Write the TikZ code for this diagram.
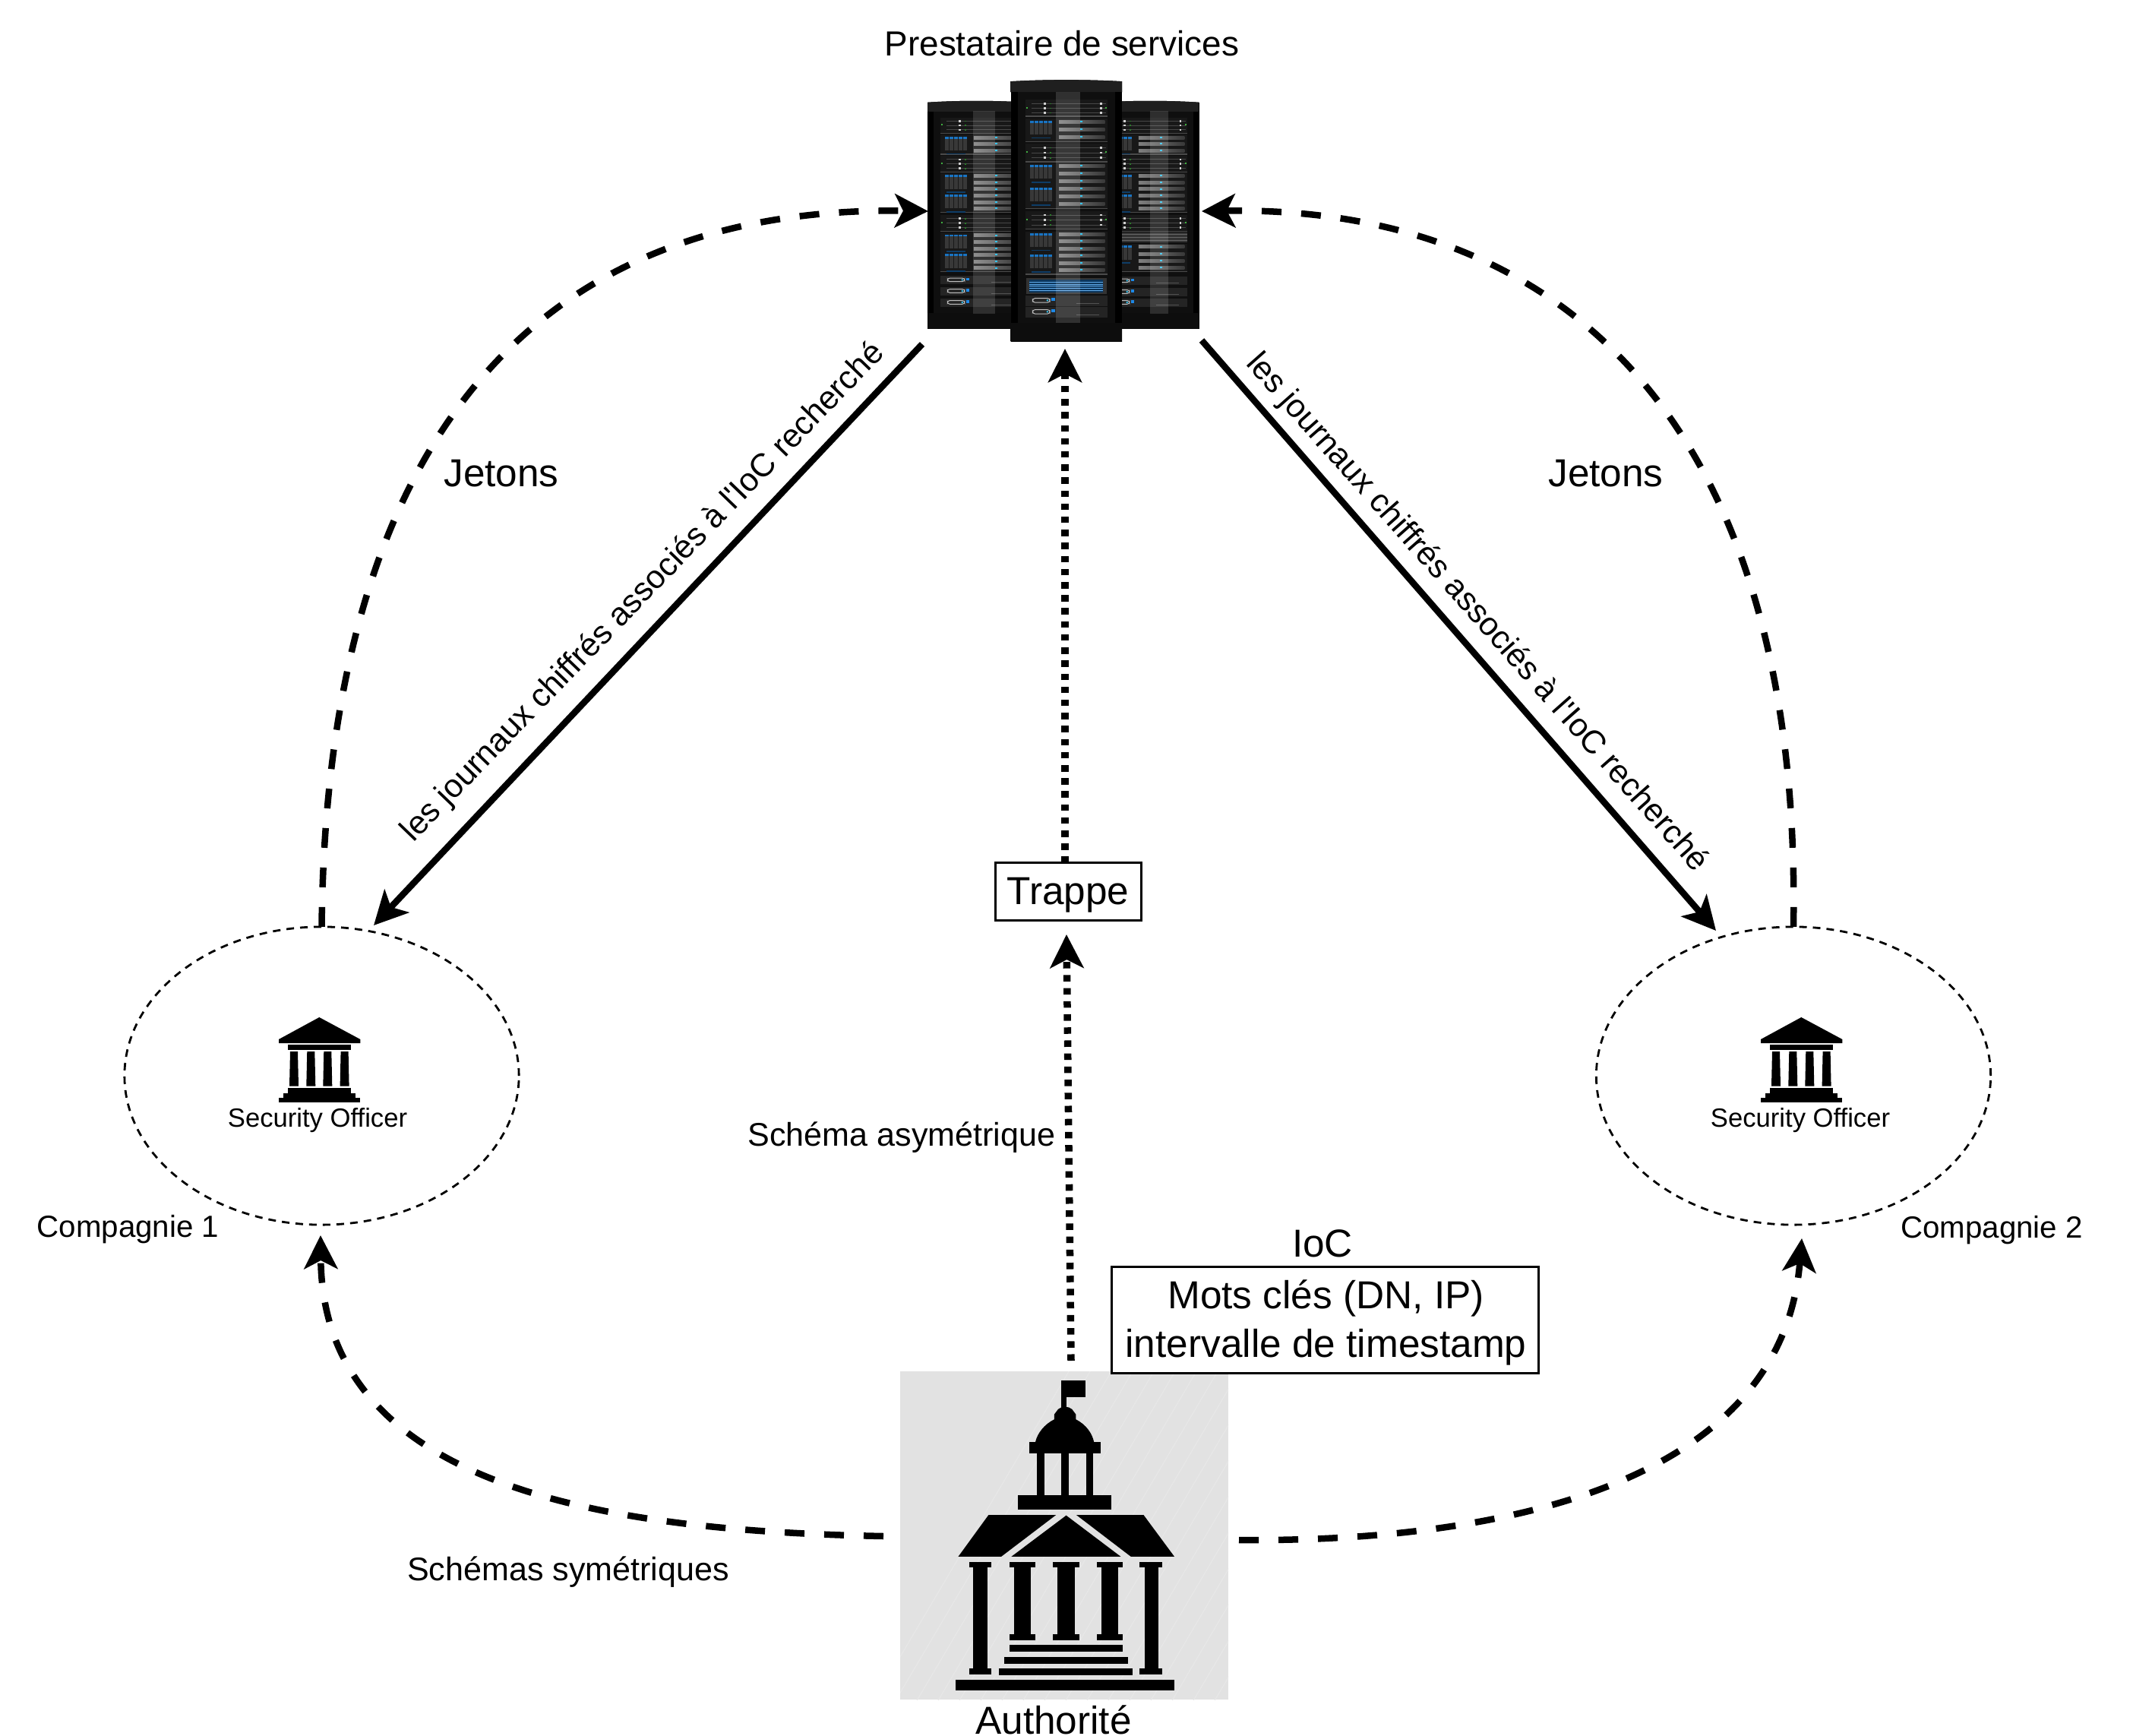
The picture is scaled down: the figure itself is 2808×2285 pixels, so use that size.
\documentclass[tikz,border=0pt]{standalone}
\usepackage{fontspec}
\setmainfont{Liberation Sans}
\newfontfamily\rawf{Liberation Sans}
\usetikzlibrary{arrows.meta,shapes.geometric}
\definecolor{greybg}{HTML}{E2E2E2}
\definecolor{greyhatch}{HTML}{E7E7E7}
\definecolor{modbg}{HTML}{181818}
\definecolor{modline}{HTML}{4A4A4A}
\definecolor{ledblue}{HTML}{1E88E5}
\definecolor{ledcyan}{HTML}{35C5F0}
\definecolor{ledgreen}{HTML}{3FAF3F}
\tikzset{
  dcurve/.style={line width=.085cm,dash pattern=on .26cm off .26cm,-{Stealth[length=.44cm,width=.44cm,inset=.11cm]}},
  dotline/.style={line width=.095cm,dash pattern=on .085cm off .087cm,-{Stealth[length=.44cm,width=.44cm,inset=.11cm]}},
  solidarrow/.style={line width=.085cm,-{Stealth[length=.44cm,width=.44cm,inset=.11cm]}},
  comp/.style={draw,ellipse,line width=.028cm,dash pattern=on .1cm off .08cm,minimum width=5.19cm,minimum height=3.92cm,inner sep=0pt,outer sep=0pt},
  lab/.style={inner sep=0pt,outer sep=0pt,anchor=base,text=black},
  bigf/.style={font=\fontsize{14.6}{18.2}\selectfont},
  headf/.style={font=\fontsize{13.05}{16}\selectfont},
  midf/.style={font=\fontsize{12.25}{15}\selectfont},
  diagf/.style={font=\rawf\fontsize{12.2}{15}\selectfont},
  compf/.style={font=\fontsize{11.45}{14}\selectfont},
  offf/.style={font=\fontsize{9.85}{12}\selectfont},
  boxed/.style={draw,line width=.03cm,fill=white,inner sep=0pt,outer sep=0pt},
  invis/.style={inner sep=0pt,outer sep=0pt}
}
\newcommand{\modA}[4]{%
  \fill[modbg] (#1,#2) rectangle ({#1+#3},{#2+#4});
  \draw[modline,line width=.012cm] (#1,{#2+#4}) -- ({#1+#3},{#2+#4});
  \foreach \pa in {.22,.5,.78}{%
    \draw[black!72,line width=.01cm] ({#1+.08*#3},{#2+\pa*#4}) -- ({#1+.98*#3},{#2+\pa*#4});
    \foreach \pb in {.24,.92}{%
      \fill[black!18] ({#1+\pb*#3-4},{#2+\pa*#4-4}) rectangle ({#1+\pb*#3+4},{#2+\pa*#4+4});
    }
    \fill[ledgreen!70!black] ({#1+.3*#3},{#2+\pa*#4-2}) rectangle ({#1+.3*#3+5},{#2+\pa*#4+3});
  }
  \fill[ledgreen] ({#1+.015*#3},{#2+.42*#4}) rectangle ({#1+.015*#3+5},{#2+.42*#4+6});
  \fill[ledgreen] ({#1+.975*#3},{#2+.42*#4}) rectangle ({#1+.975*#3+5},{#2+.42*#4+6});
}
\newcommand{\modB}[6]{%
  \fill[modbg] (#1,#2) rectangle ({#1+#3},{#2+#4});
  \draw[modline,line width=.012cm] (#1,{#2+#4}) -- ({#1+#3},{#2+#4});
  \pgfmathtruncatemacro\nbars{#5-1}
  \foreach \j in {0,...,\nbars}{%
    \pgfmathsetmacro\yy{#2+(\j+.2)*#4/#5}
    \fill[left color=black!50,right color=black!78] ({#1+.41*#3},\yy) rectangle ({#1+.97*#3},{\yy+12});
    \fill[ledcyan] ({#1+.67*#3},{\yy+2}) rectangle ({#1+.7*#3},{\yy+8});
  }
  \foreach \k in {1,...,#6}{%
    \pgfmathsetmacro\yb{#2+(\k-1)*#4/#6+7}
    \foreach \i in {0,...,4}{%
      \pgfmathsetmacro\xb{#1+.06*#3+\i*18}
      \fill[black!78] (\xb,\yb) rectangle ({\xb+14},{\yb+55});
      \fill[ledblue!85!black] (\xb,\yb) rectangle ({\xb+14},{\yb+9});
    }
    \fill[ledblue!45!black] ({#1+.08*#3},{\yb+66}) rectangle ({#1+.31*#3},{\yb+71});
  }
}
\newcommand{\modC}[4]{%
  \fill[black!86] (#1,#2) rectangle ({#1+#3},{#2+#4});
  \draw[black!25,line width=.01cm,rounded corners=.03cm] ({#1+.09*#3},{#2+.25*#4}) rectangle ({#1+.3*#3},{#2+.65*#4});
  \fill[ledcyan] ({#1+.27*#3},{#2+.45*#4}) circle (4);
  \fill[ledblue] ({#1+.32*#3},{#2+.2*#4}) rectangle ({#1+.36*#3},{#2+.5*#4});
  \draw[black!68,line width=.01cm] ({#1+.62*#3},{#2+.75*#4}) -- ({#1+.9*#3},{#2+.75*#4});
}
% rack body: x1 x2 ytop ybottom capheight stripwidth bottomheight
\newcommand{\rackbody}[7]{%
  \fill[black!94] (#1,#3) rectangle (#2,#4);
  \fill[left color=black!88,middle color=black!62,right color=black!88]
     (#1,{#3+#5}) -- (#1,#3) .. controls ({#1+.3*(#2-#1)},{#3-8}) and ({#1+.7*(#2-#1)},{#3-8}) .. (#2,#3) -- (#2,{#3+#5}) -- cycle;
  \fill[black] (#1,{#3+#5}) rectangle ({#1+#6},#4);
  \fill[black] ({#2-#6},{#3+#5}) rectangle (#2,#4);
  \fill[left color=black!95,middle color=black!72,right color=black!95] (#1,{#4-#7}) rectangle (#2,#4);
}
% small building, origin = top left
\newcommand{\smallbank}{%
  \fill (53.3,0) -- (0,29) -- (0,34) -- (107.3,34) -- (107.3,29) -- cycle;
  \fill (11.6,36.3) rectangle (95,42.7);
  \foreach \cx/\cw in {20/6,42.3/6,64.3/6,86.6/6}{%
    \fill ({\cx-\cw+1},45) -- ({\cx+\cw-1},45) -- ({\cx+\cw},90.7) -- ({\cx-\cw},90.7) -- cycle;
  }
  \fill (11.6,93.3) rectangle (95,100);
  \fill (6,100) rectangle (101,106.3);
  \fill (0,106.3) rectangle (107.3,112.3);
}
\begin{document}
\begin{tikzpicture}[x=.01cm,y=-.01cm]
\useasboundingbox (0,0) rectangle (2808,2285);

% ---------- authority box ----------
\node[invis,fill=greybg,minimum width=4.32cm,minimum height=4.32cm] (auth) at (1401,2021) {};
\begin{scope}
  \clip (1185,1805) rectangle (1617,2237);
  \foreach \h in {1150,1178,...,2100}{%
    \draw[greyhatch,line width=.012cm] (\h,2240) -- ({\h+260},1800);
  }
\end{scope}
\begin{scope}[shift={(1150,1780)},x=.0033333cm,y=-.0033333cm]
  \fill (742,110) rectangle (838,178);
  \fill (742,178) rectangle (762,240);
  \fill (715,265) -- (715,245) -- (730,225) .. controls (745,212) and (770,212) .. (785,225) -- (800,245) -- (800,265)
     .. controls (840,285) and (865,320) .. (872,355) -- (640,355) .. controls (648,320) and (675,285) .. (715,265) -- cycle;
  \fill (615,355) rectangle (898,400);
  \fill (645,400) rectangle (675,565);
  \fill (742,400) rectangle (772,565);
  \fill (840,400) rectangle (868,565);
  \fill (572,565) rectangle (940,622);
  \fill (455,643) -- (722,643) -- (505,808) -- (335,808) -- cycle;
  \fill (802,643) -- (1068,643) -- (1190,808) -- (1018,808) -- cycle;
  \fill (762,645) -- (978,808) -- (545,808) -- cycle;
  \foreach \a/\b/\c/\d in {378/395/450/467,1053/1072/1127/1143}{%
    \fill (\a,828) rectangle (\d,850);
    \fill (\b,850) rectangle (\c,1250);
    \fill (\a,1250) rectangle (\d,1273);
  }
  \foreach \a/\b/\c/\d in {537/555/622/640,710/728/795/813,882/902/968/986}{%
    \fill (\a,828) rectangle (\d,850);
    \fill (\b,850) rectangle (\c,1115);
    \fill (\a,1115) rectangle (\d,1138);
  }
  \fill (537,1157) rectangle (986,1185);
  \fill (517,1204) rectangle (1006,1232);
  \fill (496,1250) rectangle (1026,1278);
  \fill (323,1296) rectangle (1190,1336);
\end{scope}

% ---------- server racks ----------
\node[invis,minimum width=3.58cm,minimum height=3.44cm] (srv) at (1400,278) {};
\begin{scope}[shift={(1150,0)},x=.0033333cm,y=-.0033333cm]
  % left rack
  \rackbody{214}{600}{405}{1300}{37}{24}{60}
  \modA{263}{465}{325}{62}
  \modB{263}{533}{325}{77}{3}{1}
  \modA{263}{617}{325}{63}
  \modB{263}{685}{325}{155}{6}{2}
  \modA{263}{850}{325}{65}
  \modB{263}{920}{325}{155}{6}{2}
  \modC{263}{1092}{325}{33}
  \modC{263}{1135}{325}{35}
  \modC{263}{1180}{325}{35}
  \fill[white,opacity=.13] (395,440) rectangle (480,1240);
  % right rack
  \rackbody{900}{1288}{405}{1300}{37}{24}{60}
  \modA{915}{465}{325}{62}
  \modB{915}{533}{325}{77}{3}{1}
  \modA{915}{617}{325}{63}
  \modB{915}{685}{325}{155}{6}{2}
  \modA{915}{850}{325}{65}
  \fill[black!80] (915,920) rectangle (1240,960);
  \foreach \s in {928,940,952}{\draw[black!60,line width=.012cm] (915,\s) -- (1240,\s);}
  \modB{915}{965}{325}{110}{4}{1}
  \modC{915}{1095}{325}{33}
  \modC{915}{1138}{325}{35}
  \modC{915}{1180}{325}{35}
  \fill[white,opacity=.13] (1095,440) rectangle (1165,1240);
  % centre rack
  \rackbody{543}{983}{322}{1350}{43}{27}{70}
  \modA{600}{395}{325}{65}
  \modB{600}{470}{325}{90}{3}{1}
  \modA{600}{568}{325}{72}
  \modB{600}{645}{325}{180}{6}{2}
  \modA{600}{835}{325}{70}
  \modB{600}{915}{325}{170}{6}{2}
  \fill[black!80] (603,1100) rectangle (922,1162);
  \fill[left color=ledblue!40!black,middle color=ledblue!80!black,right color=ledblue!40!black] (617,1108) rectangle (908,1156);
  \foreach \s in {1116,1124,1132,1140,1148}{\draw[ledblue!70!white,line width=.008cm] (617,\s) -- (908,\s);}
  \modC{600}{1170}{325}{40}
  \modC{600}{1215}{325}{40}
  \fill[white,opacity=.14] (722,365) rectangle (818,1278);
\end{scope}

% ---------- companies ----------
\node[comp] (c1) at (423.5,1416) {};
\node[comp] (c2) at (2361,1416) {};
\begin{scope}[shift={(367,1339)}]\smallbank\end{scope}
\begin{scope}[shift={(2318,1339)}]\smallbank\end{scope}
\node[lab,offf] (so1) at (418,1483) {Security Officer};
\node[lab,offf] (so2) at (2370,1483) {Security Officer};
\node[lab,compf] (n1) at (168.5,1628) {Compagnie 1};
\node[lab,compf] (n2) at (2622,1629) {Compagnie 2};

% ---------- boxes ----------
\node[boxed,minimum width=1.91cm,minimum height=.755cm] (trap) at (1406.5,1173.75) {};
\node[lab,bigf] (trapT) at (1406,1190) {Trappe};
\node[boxed,minimum width=5.61cm,minimum height=1.39cm] (ioc) at (1744.5,1737.5) {};
\node[invis,bigf,align=center] (iocT) at (1745.5,1741) {Mots clés (DN, IP)\\intervalle de timestamp};

% ---------- labels ----------
\node[lab,headf] (title) at (1398,74) {Prestataire de services};
\node[lab,bigf] (authl) at (1387,2282) {Authorité};
\node[lab,bigf] (iocl) at (1741,1654) {IoC};
\node[lab,bigf] (j1) at (660,640) {Jetons};
\node[lab,bigf] (j2) at (2114,640) {Jetons};
\node[lab,midf] (sa) at (1187,1508) {Schéma asymétrique};
\node[lab,midf] (ss) at (748,2080) {Schémas symétriques};
\node[invis,diagf,rotate=46] (d1) at (847,780) {les journaux chiffrés associés à l'IoC recherché};
\node[invis,diagf,rotate=-48.5] (d2) at (1944,807) {les journaux chiffrés associés à l'IoC recherché};

% ---------- connector ends ----------
\coordinate (srvL) at (1222,278);
\coordinate (srvR) at (1582,278);
\coordinate (srvS) at (1402,459);
\coordinate (srvDL) at (1214,453);
\coordinate (srvDR) at (1582,448);
\coordinate (c1tip) at (492,1218);
\coordinate (c2tip) at (2259,1225);
\coordinate (c1low) at (422,1626);
\coordinate (c2low) at (2372,1630);
\coordinate (authL) at (1163,2022);
\coordinate (authR) at (1631,2027);
\coordinate (authN) at (1410,1791);
\coordinate (trapS) at (1404,1230);

% ---------- connectors ----------
\draw[dcurve] (c1.north) .. controls (430,560) and (720,270) .. (srvL);
\draw[dcurve] (c2.north) .. controls (2372,560) and (2060,270) .. (srvR);
\draw[dcurve] (authL) .. controls (800,2015) and (425,1960) .. (c1low);
\draw[dcurve] (authR) .. controls (1960,2030) and (2345,1960) .. (c2low);
\draw[solidarrow] (srvDL) -- (c1tip);
\draw[solidarrow] (srvDR) -- (c2tip);
\draw[dotline] (authN) -- (trapS);
\draw[dotline] (trap.north -| srvS) -- (srvS);
\end{tikzpicture}
\end{document}
